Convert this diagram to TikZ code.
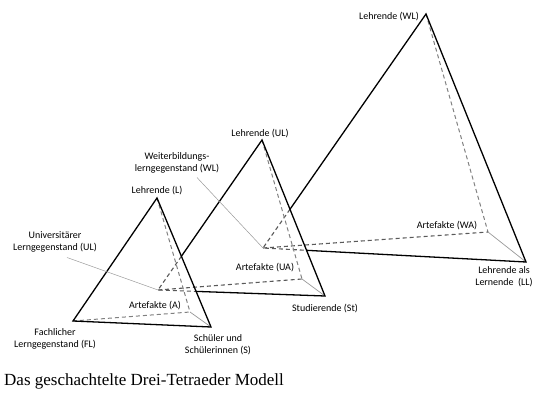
\documentclass[tikz,border=0pt]{standalone}
\usepackage{fontspec}
\setmainfont{Carlito}
\newfontfamily\captionfont{Liberation Serif}
\usetikzlibrary{positioning}

\begin{document}
\begin{tikzpicture}[
            x=1pt, y=-1pt,
            edge/.style={black, line width=1.3pt}, % visible outline
            hidden/.style={gray!70!black, dashed, dash pattern=on 4pt off 3pt, line width=1.1pt}, % hidden part of an outline
            backline/.style={gray, dashed, dash pattern=on 4pt off 3pt, line width=1pt}, % edge to the back corner
            backfoot/.style={gray!80, line width=0.7pt}, % back corner to the learner
            leader/.style={gray!80, line width=0.5pt}, % label pointer
            lbl/.style={font=\fontsize{10}{12}\selectfont, align=center, inner sep=0pt}
            ]
    \useasboundingbox (0,0) rectangle (541,401);

    % small tetrahedron
    \coordinate (L)  at (157,198);
    \coordinate (FL) at (73,321);
    \coordinate (S)  at (211,327);
    \coordinate (A)  at (190,312);
    % middle tetrahedron
    \coordinate (ULt) at (262,140);
    \coordinate (Ul)  at (158,290);
    \coordinate (St)  at (325,296);
    \coordinate (UA)  at (302,279);
    % large tetrahedron
    \coordinate (WLt) at (426,14);
    \coordinate (Wl)  at (263,248);
    \coordinate (LL)  at (526,262);
    \coordinate (WA)  at (488,232);

    % where the outlines go behind the front tetrahedra
    \coordinate (p1) at (intersection of ULt--Ul and L--S);
    \coordinate (p2) at (intersection of Ul--St and L--S);
    \coordinate (p3) at (intersection of WLt--Wl and ULt--St);
    \coordinate (p4) at (intersection of Wl--LL and ULt--St);

    % large tetrahedron
    \draw[backline] (WLt) -- (WA);
    \draw[hidden] (Wl) -- (WA);
    \draw[backfoot] (WA) -- (LL);
    \draw[hidden] (p3) -- (Wl) -- (p4);
    \draw[edge] (p3) -- (WLt) -- (LL) -- (p4);

    % middle tetrahedron
    \draw[backline] (ULt) -- (UA);
    \draw[hidden] (Ul) -- (UA);
    \draw[backfoot] (UA) -- (St);
    \draw[hidden] (p1) -- (Ul) -- (p2);
    \draw[edge] (p1) -- (ULt) -- (St) -- (p2);

    % small tetrahedron
    \draw[backline] (L) -- (A);
    \draw[backline] (FL) -- (A);
    \draw[backfoot] (A) -- (S);
    \draw[edge] (L) -- (FL) -- (S) -- cycle;

    % labels
    \node[lbl, anchor=east] (wlt) at (419,17) {Lehrende (WL)};
    \node[lbl] (ult) at (260,134) {Lehrende (UL)};
    \node[lbl] (lt) at (157,191) {Lehrende (L)};
    \node[lbl] (wl) at (177,163) {Weiterbildungs-\\lerngegenstand (WL)};
    \node[lbl] (ul) at (55,242) {Universitärer\\Lerngegenstand (UL)};
    \node[lbl] (fl) at (55,339) {Fachlicher\\Lerngegenstand (FL)};
    \node[lbl] (s) at (218,345) {Schüler und\\Schülerinnen (S)};
    \node[lbl] (st) at (325,309) {Studierende (St)};
    \node[lbl] (ll) at (504,277) {Lehrende als\\Lernende~~(LL)};
    \node[lbl] (a) at (155,306) {Artefakte (A)};
    \node[lbl] (ua) at (265,268) {Artefakte (UA)};
    \node[lbl] (wa) at (447,226) {Artefakte (WA)};

    % pointers
    \coordinate (wlend) at ([xshift=20pt,yshift=-4pt]wl.south);
    \coordinate (ulend) at ([xshift=12pt,yshift=-5pt]ul.south);
    \draw[leader] (wlend) -- (Wl);
    \draw[leader] (ulend) -- (Ul);

    % caption
    \node[anchor=west, inner sep=0pt, font=\captionfont\fontsize{17}{20}\selectfont] (caption) at (4,381) {Das geschachtelte Drei-Tetraeder Modell};

\end{tikzpicture}
\end{document}
